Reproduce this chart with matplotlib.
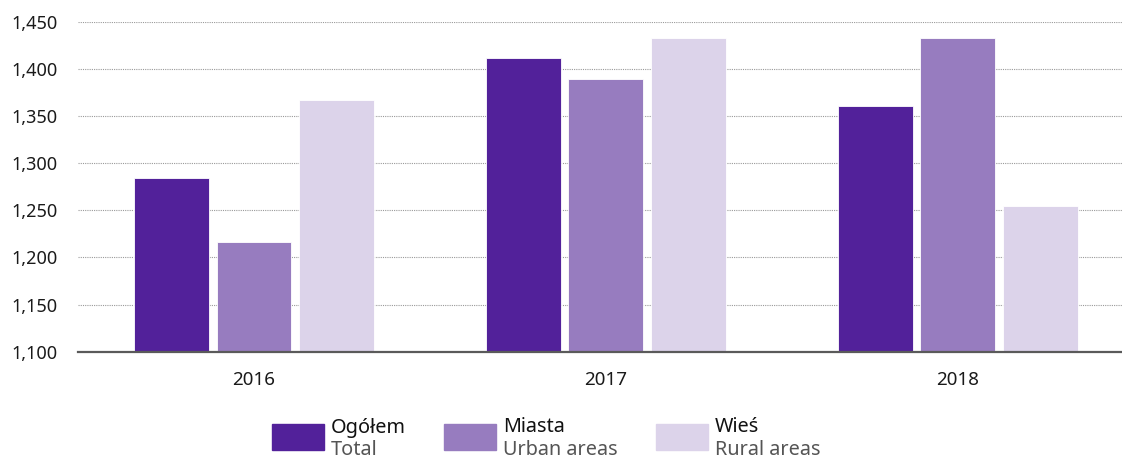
import matplotlib
matplotlib.use('Agg')
import matplotlib.pyplot as plt
from matplotlib.patches import Rectangle
from matplotlib.ticker import FuncFormatter
import numpy as np

years = ['2016', '2017', '2018']
total = [1284, 1412, 1361]
urban = [1216, 1389, 1433]
rural = [1367, 1433, 1255]

series_pl = ['Ogółem', 'Miasta', 'Wieś']
series_en = ['Total', 'Urban areas', 'Rural areas']
colors = ['#52219a', '#977cbf', '#dcd3ea']

plt.rcParams['font.family'] = ['Noto Sans', 'DejaVu Sans']

fig = plt.figure(figsize=(11.22, 4.59), dpi=100)
ax = fig.add_axes([78 / 1122, 1 - 351.7 / 459, 1 - 78 / 1122, 330 / 459])

x = np.arange(len(years))
width = 0.213
step = 0.234
for i, vals in enumerate([total, urban, rural]):
    ax.bar(x + (i - 1) * step, vals, width=width, color=colors[i],
           edgecolor='white', linewidth=0.6, zorder=3)

ax.set_ylim(1100, 1450)
ax.set_xlim(-0.5, 2.466)
ax.set_yticks(np.arange(1100, 1451, 50))
ax.yaxis.set_major_formatter(FuncFormatter(lambda v, p: f'{int(v):,}'))
ax.set_xticks(x)
ax.set_xticklabels(years)
ax.tick_params(axis='both', length=0, labelsize=13, colors='#1a1a1a')
ax.tick_params(axis='x', labelsize=13.5)
ax.tick_params(axis='y', pad=15)
ax.tick_params(axis='x', pad=14)

ax.grid(axis='y', linestyle=(0, (1, 1)), color='#9a9a9a', linewidth=0.8, zorder=0)
for s in ['left', 'right', 'top']:
    ax.spines[s].set_visible(False)
ax.spines['bottom'].set_color('#5a5a5a')
ax.spines['bottom'].set_linewidth(1.6)
ax.spines['bottom'].set_zorder(4)

# legend drawn by hand: coloured box, Polish label above English one
box_x = [272, 444, 656]
for i in range(3):
    fig.patches.append(Rectangle((box_x[i] / 1122, 1 - 449.5 / 459), 52 / 1122, 26 / 459,
                                 transform=fig.transFigure, color=colors[i]))
    tx = (box_x[i] + 59) / 1122
    fig.text(tx, 1 - 432.5 / 459, series_pl[i], fontsize=14.3, color='#111111', va='baseline')
    fig.text(tx, 1 - 455 / 459, series_en[i], fontsize=14.3, color='#555555', va='baseline')

fig.savefig('out.png', dpi=100)
